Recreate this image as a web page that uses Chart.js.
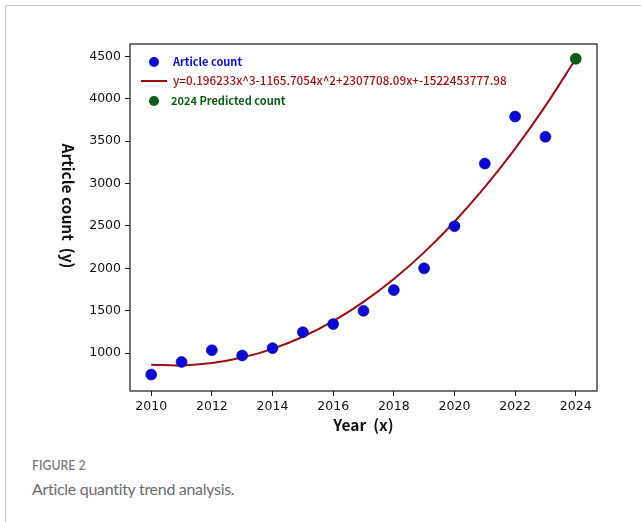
<!DOCTYPE html>
<html>
<head>
<meta charset="utf-8">
<script src="https://cdn.jsdelivr.net/npm/chart.js@4.4.1/dist/chart.umd.min.js"></script>
<style>
  html, body { margin: 0; padding: 0; background: #fff; }
  #page { position: relative; width: 641px; height: 522px; overflow: hidden; background: #fff; }
  #frame { position: absolute; left: 5px; top: 5px; width: 700px; height: 600px;
           border-top: 1px solid #c4c4c4; border-left: 1px solid #c4c4c4; }
  #wrap { position: absolute; left: 0; top: 0; width: 641px; height: 440px; }
  .fig { position: absolute; left: 32px; top: 458px; font: 600 12.3px Lato, "Open Sans", sans-serif; color: #7d7d7d; }
  .cap { position: absolute; left: 32px; top: 479px; font: 400 16px Lato, "Open Sans", sans-serif; color: #6c6c6c; letter-spacing: -0.3px; }
</style>
</head>
<body>
<div id="page">
  <div id="frame"></div>
  <div id="wrap"><canvas id="chart" width="641" height="440"></canvas></div>
  <div class="fig">FIGURE 2</div>
  <div class="cap">Article quantity trend analysis.</div>
</div>
<script>
// Observed yearly article counts
const years = [2010, 2011, 2012, 2013, 2014, 2015, 2016, 2017, 2018, 2019, 2020, 2021, 2022, 2023];
const articleCounts = [748, 897, 1035, 973, 1059, 1248, 1343, 1500, 1744, 2001, 2497, 3236, 3791, 3552];

// Cubic trend curve, sampled once per year
const fitYears = [2010, 2011, 2012, 2013, 2014, 2015, 2016, 2017, 2018, 2019, 2020, 2021, 2022, 2023, 2024];
const fitValues = [865, 856, 883, 948, 1051, 1194, 1378, 1605, 1875, 2189, 2550, 2957, 3412, 3917, 4472];

// Forecast for 2024
const predictedYears = [2024];
const predictedCounts = [4472];

// Axis ticks
const xTicks = [2010, 2012, 2014, 2016, 2018, 2020, 2022, 2024];
const yTicks = [1000, 1500, 2000, 2500, 3000, 3500, 4000, 4500];

const seriesLabels = ['Article count', 'y=0.196233x^3-1165.7054x^2+2307708.09x+-1522453777.98', '2024 Predicted count'];
const axisTitles = { x: 'Year  (x)', y: 'Article count  (y)' };

const BLUE = '#0a0ad0';
const RED = '#9e0c12';
const GREEN = '#0b5c14';

const toPoints = (xs, ys) => xs.map((x, i) => ({ x, y: ys[i] }));

// Frame, in-plot legend and axis titles
const decor = {
  id: 'decor',
  afterDraw(chart) {
    const { ctx, chartArea: a } = chart;
    ctx.save();
    ctx.strokeStyle = '#1a1a1a';
    ctx.lineWidth = 1.2;
    ctx.strokeRect(a.left, a.top, a.right - a.left, a.bottom - a.top);

    // legend
    const mx = a.left + 24;
    const tx = a.left + 43;
    const rows = [a.top + 18, a.top + 37, a.top + 57];
    ctx.textBaseline = 'middle';
    ctx.textAlign = 'left';

    ctx.fillStyle = BLUE;
    ctx.beginPath(); ctx.arc(mx, rows[0], 5, 0, Math.PI * 2); ctx.fill();
    ctx.font = 'bold 11px "Noto Sans CJK SC"';
    ctx.fillText(seriesLabels[0], tx, rows[0]);

    ctx.strokeStyle = RED; ctx.lineWidth = 2;
    ctx.beginPath(); ctx.moveTo(a.left + 11, rows[1]); ctx.lineTo(a.left + 37, rows[1]); ctx.stroke();
    ctx.fillStyle = RED;
    ctx.font = '500 11.7px "Noto Sans CJK SC"';
    ctx.fillText(seriesLabels[1], tx, rows[1]);

    ctx.fillStyle = GREEN;
    ctx.beginPath(); ctx.arc(mx, rows[2], 5, 0, Math.PI * 2); ctx.fill();
    ctx.font = 'bold 11px "Noto Sans CJK SC"';
    ctx.fillText(seriesLabels[2], tx - 2, rows[2]);

    // axis titles
    ctx.fillStyle = '#111';
    ctx.font = 'bold 15.5px "Noto Sans CJK SC"';
    ctx.textAlign = 'center';
    ctx.fillText(axisTitles.x, (a.left + a.right) / 2, 425);
    ctx.translate(68, 206);
    ctx.rotate(Math.PI / 2);
    ctx.fillText(axisTitles.y, 0, 0);
    ctx.restore();
  }
};

new Chart(document.getElementById('chart'), {
  type: 'scatter',
  data: {
    datasets: [
      {
        label: seriesLabels[0],
        data: toPoints(years, articleCounts),
        backgroundColor: BLUE,
        borderColor: '#0606a0',
        borderWidth: 0.6,
        pointRadius: 5.5,
        order: 0
      },
      {
        label: seriesLabels[2],
        data: toPoints(predictedYears, predictedCounts),
        backgroundColor: GREEN,
        borderColor: '#07400d',
        borderWidth: 0.6,
        pointRadius: 5.5,
        order: 0
      },
      {
        label: seriesLabels[1],
        data: toPoints(fitYears, fitValues),
        showLine: true,
        borderColor: RED,
        borderWidth: 2,
        pointRadius: 0,
        tension: 0.4,
        fill: false,
        order: 1
      }
    ]
  },
  options: {
    responsive: false,
    animation: false,
    events: [],
    layout: { padding: { left: 0, top: 44, right: 44, bottom: 19 } },
    plugins: { legend: { display: false }, tooltip: { enabled: false } },
    scales: {
      x: {
        type: 'linear',
        min: 2009.3,
        max: 2024.7,
        afterBuildTicks: (s) => { s.ticks = xTicks.map(v => ({ value: v })); },
        afterFit: (s) => { s.height = 30; },
        border: { display: false },
        grid: { display: true, drawOnChartArea: false, drawTicks: true, tickLength: 5, tickColor: '#1a1a1a', tickWidth: 1 },
        ticks: {
          callback: (v) => String(v),
          color: '#111',
          font: { family: '"DejaVu Sans"', size: 12.5 },
          padding: 3,
          maxRotation: 0
        }
      },
      y: {
        type: 'linear',
        min: 554,
        max: 4646,
        afterBuildTicks: (s) => { s.ticks = yTicks.map(v => ({ value: v })); },
        afterFit: (s) => { s.width = 130; },
        border: { display: false },
        grid: { display: true, drawOnChartArea: false, drawTicks: true, tickLength: 5, tickColor: '#1a1a1a', tickWidth: 1 },
        ticks: {
          callback: (v) => String(v),
          color: '#111',
          font: { family: '"DejaVu Sans"', size: 12.5 },
          padding: 4
        }
      }
    }
  },
  plugins: [decor]
});
</script>
</body>
</html>
